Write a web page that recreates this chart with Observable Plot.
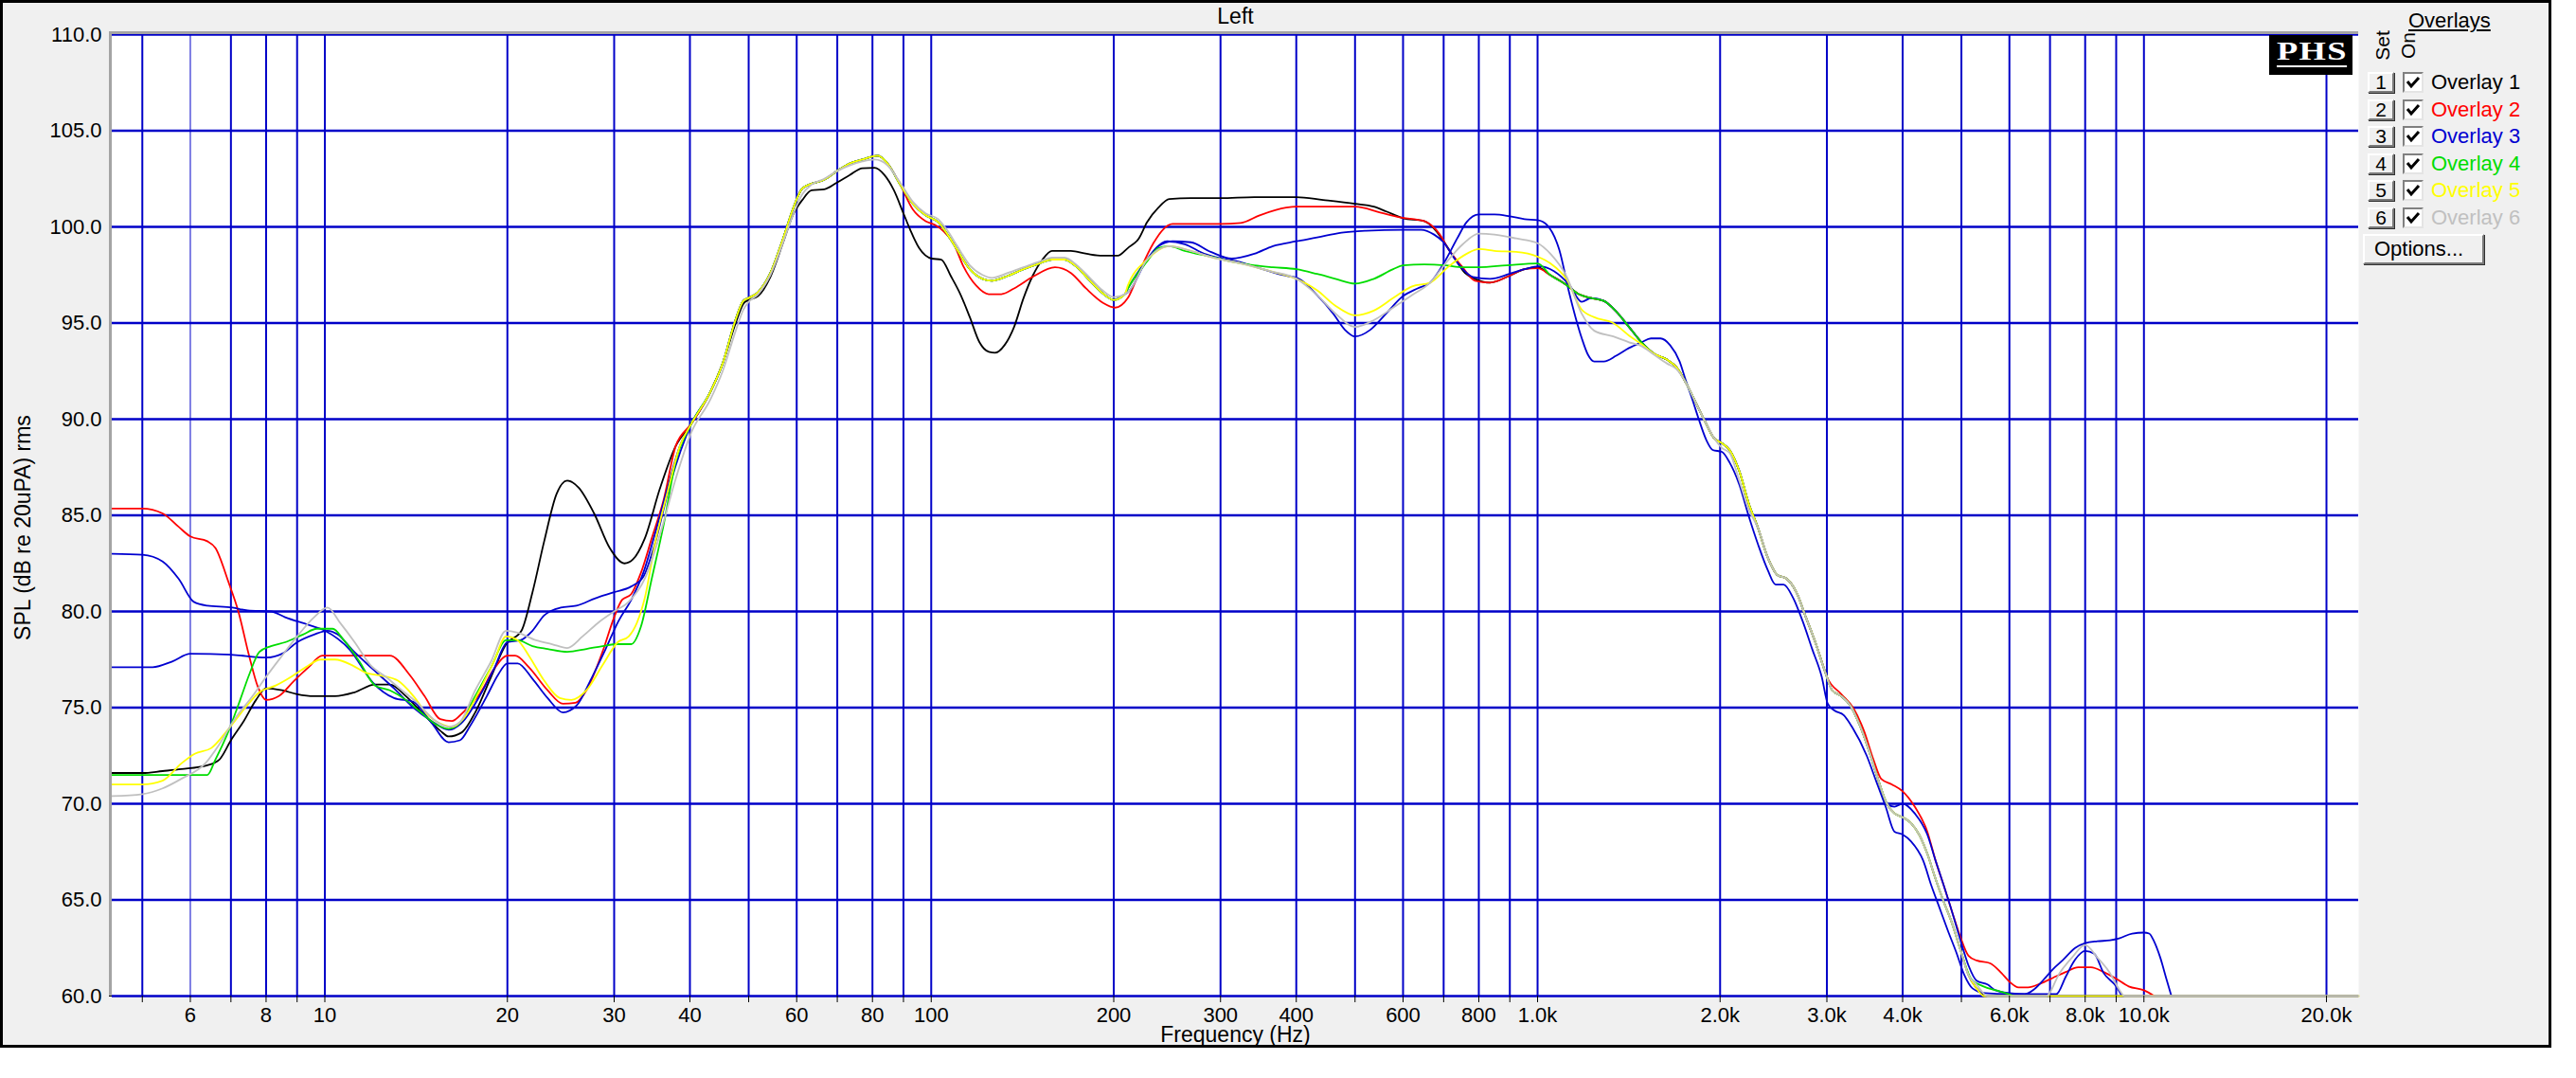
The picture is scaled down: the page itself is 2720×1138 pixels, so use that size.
<!DOCTYPE html>
<html>
<head>
<meta charset="utf-8">
<script src="https://cdn.jsdelivr.net/npm/d3@7"></script>
<script src="https://cdn.jsdelivr.net/npm/@observablehq/plot@0.6"></script>
<style>
  html, body { margin: 0; padding: 0; background: #fff; }
  body { width: 2720px; height: 1138px; position: relative; overflow: hidden;
         font-family: "Liberation Sans", Arial, sans-serif; color: #000; }
  #frame { position: absolute; left: 0; top: 0; width: 2694px; height: 1106px;
           box-sizing: border-box; border: 3px solid #000; background: #f0f0f0; }
  #chart { position: absolute; left: 0; top: 0; width: 2692px; height: 1104px; }
  .sunken { position: absolute; background: #a4a4a4; }
  .abs { position: absolute; white-space: nowrap; }
  .btn { position: absolute; box-sizing: border-box; background: #f0f0f0;
         border-top: 2px solid #fff; border-left: 2px solid #fff;
         border-right: 2px solid #7a7a7a; border-bottom: 2px solid #7a7a7a;
         box-shadow: 1px 1px 0 #303030; font-size: 21px; }
  .chk { position: absolute; box-sizing: border-box; background: #fff;
         border-top: 2px solid #808080; border-left: 2px solid #808080;
         border-right: 2px solid #e4e4e4; border-bottom: 2px solid #e4e4e4; }
  .rot { position: absolute; transform: translate(-50%, -50%) rotate(-90deg); font-size: 21px; }
  #logo { position: absolute; left: 2396px; top: 37px; width: 88px; height: 42px; background: #000; }
  #logo span { position: absolute; left: 8px; top: 2px; color: #fff; font-family: "Liberation Serif", serif;
               font-weight: bold; font-size: 28px; letter-spacing: 1px; transform: scaleX(1.3);
               transform-origin: left top; border-bottom: 2px solid #fff; line-height: 30px; }
</style>
</head>
<body>
<div id="frame"></div>
<div id="chart"></div>
<div class="sunken" style="left:115px; top:33px; width:2375px; height:3px;"></div>
<div class="sunken" style="left:115px; top:33px; width:3px; height:1018px;"></div>
<div id="logo"><span>PHS</span></div>
<div id="legend"></div>
<script>
// ---- labels / categories ----
const chartTitle = "Left";
const xLabel = "Frequency (Hz)";
const yLabel = "SPL (dB re 20uPA) rms";
const overlayNames = ["Overlay 1", "Overlay 2", "Overlay 3", "Overlay 4", "Overlay 5", "Overlay 6"];
const overlayColors = ["#000000", "#ff0000", "#0000d0", "#00dd00", "#ffff00", "#c0c0c0"];

const gridHz = [5, 6, 7, 8, 9, 10, 20, 30, 40, 50, 60, 70, 80, 90, 100, 200, 300, 400, 500, 600, 700, 800, 900,
  1000, 2000, 3000, 4000, 5000, 6000, 7000, 8000, 9000, 10000, 20000];
const gridLabels = ["", "6", "", "8", "", "10", "20", "30", "40", "", "60", "", "80", "", "100", "200", "300", "400", "",
  "600", "", "800", "", "1.0k", "2.0k", "3.0k", "4.0k", "", "6.0k", "", "8.0k", "", "10.0k", "20.0k"];
const dbTicks = [60, 65, 70, 75, 80, 85, 90, 95, 100, 105, 110];

// ---- curve values [Hz, dB] ----
const mainMid = [[40.2,89.75],[43.2,91.4],[45.3,92.9],[47.6,95.2],[49,96.15],[50,96.3],[51.8,96.6],[54.3,97.6],[57,99.4],
  [59.1,100.9],[61.3,102.0],[63.5,102.25],[66.6,102.45],[69.9,102.9],[73.4,103.3],[77,103.5],[79.8,103.65],[81.7,103.7],
  [84.7,103.3],[88.9,102.2],[93.3,101.2],[97.9,100.6],[102.7,100.25],[106.4,99.6],[110.4,98.8],[115.8,97.8],[121.5,97.3],
  [125.9,97.2],[133.7,97.45],[142,97.8],[150.8,98.1],[158.2,98.3],[166,98.3],[174,97.9],[182.7,97.2],[191.7,96.55],
  [200,96.2],[208.5,96.5]];
const mainHigh = [[1049,97.5],[1114,97.0],[1169,96.5],[1226,96.3],[1286,96.15],[1348,95.6],[1415,94.8],[1484,94.0],
  [1557,93.4],[1634,93.1],[1694,92.7],[1756,91.9],[1821,90.9],[1887,89.9],[1956,89.0],[2014,88.75],[2073,88.4],
  [2151,87.3],[2230,85.6],[2312,84.3],[2397,82.8],[2485,81.9],[2576,81.7],[2672,81.0],[2770,79.7],[2871,78.4],
  [2977,76.9],[3061,75.9],[3169,75.6],[3281,75.1],[3397,74.1],[3517,72.8],[3641,71.3],[3769,70.0],[3878,69.5],
  [4000,69.3],[4128,69.0],[4258,68.4],[4393,67.4],[4532,66.1],[4676,64.9],[4824,63.8],[4977,62.45],[5135,61.1]];

const blackLow = [[4.46,71.6],[5.0,71.6],[5.4,71.7],[5.8,71.8],[6.4,72.0],[6.7,72.3],[7.0,73.3],[7.35,74.3],[7.7,75.4],
  [8.0,76.0],[8.5,75.9],[9.0,75.7],[9.6,75.6],[10.4,75.6],[11.2,75.8],[12.1,76.2],[12.8,76.2],[13.6,75.6],[14.6,74.6],
  [15.5,73.8],[16,73.5],[16.8,73.7],[17.7,74.75],[18.8,76.6],[19.9,78.3],[21.1,79.0],[22.0,81.0],[23.0,83.65],
  [24.1,86.1],[25.1,86.8],[26.2,86.45],[27.8,85.1],[29.5,83.3],[31.2,82.5],[32.2,82.7],[33.7,83.8],[35.7,86.4],
  [37.9,88.6],[40.2,89.75],[43.2,91.4],[45.3,92.9],[47.6,95.0],[49,96.0],[50,96.2],[51.8,96.4],[54.3,97.4],[57,99.2],
  [59.1,100.6],[61.3,101.4],[63.5,101.9],[66.6,101.95],[69.9,102.3],[73.4,102.7],[77,103.05],[80.7,103.07],
  [83.7,102.7],[86.8,101.9],[90,100.7],[92.2,99.9],[95.5,98.9],[100.2,98.35],[103.9,98.3],[107.7,97.45],[111.7,96.5],
  [115.8,95.3],[120.1,94.0],[124.4,93.5],[127.4,93.45],[132.1,93.85],[137,94.8],[142,96.3],[147,97.45],[152.6,98.3],
  [158.2,98.75],[170,98.75],[180.5,98.6],[191.7,98.5],[203,98.5],[211,98.9],[220,99.4],[227,100.25],[237,101.0],
  [247,101.45],[268,101.5],[300,101.5],[341,101.55],[400,101.55],[443,101.4],[500,101.2],[537,101.05],[563,100.8],
  [600,100.45],[650,100.3],[682,99.75],[705,99.1],[732,98.3],[759,97.6],[788,97.3],[835,97.1],[898,97.45],[952,97.8],
  [1000,97.9]];
const blackTail = [[5297,60.4],[5450,60.0]];

const redLow = [[4.46,85.35],[5.0,85.35],[5.4,85.1],[5.74,84.4],[6.0,83.9],[6.4,83.65],[6.6,83.3],[6.94,81.5],[7.2,80.0],
  [7.5,77.7],[7.75,76.1],[8.0,75.4],[8.4,75.6],[8.9,76.4],[9.4,77.1],[9.9,77.7],[11,77.7],[12.8,77.7],[13.8,76.7],
  [14.6,75.6],[15.5,74.4],[16.2,74.3],[16.9,74.75],[18,75.7],[19,77.0],[20,77.7],[20.6,77.7],[21.7,77.1],[23.3,75.9],
  [24.7,75.2],[25.9,75.25],[27,75.9],[28.7,77.9],[30,79.7],[30.9,80.6],[32,80.9],[33.2,82.0],[34.6,83.8],[36.2,85.8],
  [37.9,88.6]];
const redMid = [[93.3,100.9],[97.9,100.3],[101.5,100.1],[105,99.75],[109,99.1],[113,97.95],[118.6,96.95],[124.4,96.5],
  [130.5,96.5],[137,96.8],[147,97.4],[160,97.9],[170,97.6],[180,96.8],[192,96.05],[201,95.8],[211,96.3],[220,97.6],
  [232,99.1],[241,99.85],[250,100.15],[268,100.15],[300,100.15],[324,100.2],[348,100.6],[385,101.0],[400,101.05],
  [443,101.05],[500,101.05],[550,100.75],[592,100.5],[650,100.3],[690,99.6],[714,98.8],[750,97.95],[788,97.2],
  [835,97.1],[898,97.45],[952,97.8],[1000,97.85]];
const redHigh = [[3000,76.6],[3169,75.7],[3321,74.95],[3453,73.8],[3580,72.3],[3686,71.3],[3843,71.0],[4000,70.65],
  [4188,69.85],[4393,68.55],[4532,67.05],[4676,65.75],[4824,64.4],[4977,63.1],[5135,62.1],[5297,61.85],[5580,61.7],
  [5820,61.2],[6000,60.75],[6213,60.45],[6440,60.45],[6750,60.65],[7080,60.95],[7430,61.25],[7790,61.5],[8180,61.5],
  [8580,61.25],[9000,60.9],[9440,60.5],[10000,60.3],[10400,60.0]];

const blueLow = [[4.46,83.0],[5.0,82.95],[5.4,82.6],[5.74,81.7],[6.08,80.5],[6.4,80.3],[7.04,80.2],[7.46,80.05],
  [8.15,80.0],[8.6,79.7],[9.4,79.3],[10,79.0],[11,78.0],[12,76.3],[13,75.5],[14,75.3],[15,74.2],[16,73.2],[16.7,73.3],
  [17.4,74.1],[18.5,75.6],[19.3,76.7],[20,77.3],[20.8,77.3],[22,76.5],[23.3,75.5],[24.7,74.75],[26,75.1],[27.5,76.5],
  [29,78.0],[30.5,79.5],[32,80.6],[33.5,82.0],[35,84.0],[36.8,86.5],[38.5,88.6]];
const blueHigh = [[211,96.6],[227,98.3],[245,99.25],[262,99.1],[282,98.6],[302,98.35],[321,98.2],[348,97.85],[379,97.5],
  [404,97.3],[433,96.45],[460,95.5],[481,94.65],[500,94.3],[530,94.65],[563,95.5],[600,96.4],[634,96.8],[665,97.1],
  [700,98.1],[737,99.4],[764,100.25],[800,100.65],[849,100.65],[900,100.55],[952,100.4],[1000,100.35],[1036,100.1],
  [1086,98.8],[1127,96.6],[1155,95.3],[1183,94.2],[1211,93.35],[1240,93.0],[1286,93.0],[1348,93.3],[1415,93.7],
  [1484,94.0],[1538,94.2],[1595,94.2],[1654,93.85],[1715,93.0],[1756,92.0],[1799,91.05],[1842,90.05],[1899,88.9],
  [1944,88.4],[2014,88.3],[2073,87.75],[2151,86.6],[2230,84.95],[2312,83.45],[2397,82.15],[2470,81.4],[2545,81.4],
  [2640,80.7],[2736,79.5],[2837,78.05],[2942,76.6],[3010,75.2],[3086,74.85],[3200,74.6],[3300,74.0],[3490,72.5],
  [3620,71.15],[3750,69.85],[3878,68.55],[4000,68.4],[4128,68.05],[4324,67.05],[4460,65.75],[4600,64.6],[4750,63.4],
  [4900,62.3],[5055,61.1],[5215,60.4],[5470,60.15],[6000,60.1],[6700,60.1],[7170,60.1],[7430,61.0],[7700,61.9],
  [8000,62.35],[8280,62.2],[8580,61.2],[9000,60.5],[9200,60.0]];

const blue2Low = [[4.46,77.1],[5.2,77.1],[5.6,77.4],[6.0,77.8],[7.0,77.75],[8.0,77.6],[8.5,77.8],[9.0,78.4],[9.6,78.8],
  [10.1,79.0],[10.5,78.8],[11.1,78.0],[12,77.0],[13,76.0],[14,75.0],[15,74.3],[16,73.85],[16.8,74.2],[18,75.6],[19,77.0],
  [20,78.4],[21,78.5],[22,79.0],[23,79.8],[24.5,80.2],[26,80.3],[28,80.7],[30,81.0],[32,81.3],[33.5,81.8],[35,83.5],
  [37,86.5]];
const blue2Mid = [[211,96.8],[227,98.3],[237,99.0],[250,99.25],[268,99.2],[289,98.7],[313,98.35],[341,98.6],[366,99.0],
  [400,99.25],[433,99.45],[475,99.7],[521,99.8],[600,99.85],[643,99.85],[675,99.6],[700,99.2],[726,98.45],[753,97.8],
  [782,97.4],[835,97.3],[898,97.55],[952,97.8],[1006,97.95],[1064,97.7],[1130,96.95],[1182,96.1]];
const blue2Tail = [[3878,69.85],[4000,70.0],[4188,69.5],[4393,68.4],[4532,67.05],[4676,65.75],[4824,64.4],[4977,62.95],
  [5135,61.6],[5297,60.8],[5521,60.6],[5690,60.3],[6000,60.15],[6360,60.1],[6590,60.35],[6830,60.85],[7080,61.4],
  [7340,61.85],[7700,62.5],[8000,62.75],[8380,62.85],[8790,62.9],[9100,63.0],[9560,63.25],[10000,63.3],[10200,63.25],
  [10390,62.85],[10640,62.0],[10900,60.85],[11100,60.0]];

const greenLow = [[4.46,71.5],[6.4,71.5],[6.6,72.3],[6.9,73.6],[7.25,75.4],[7.5,76.7],[7.8,77.9],[8.15,78.2],[8.6,78.4],
  [9.2,78.8],[9.7,79.1],[10.3,79.1],[10.75,78.5],[11.4,77.4],[12.1,76.15],[12.8,75.9],[13.6,75.4],[14.4,74.75],
  [15.3,74.1],[16,73.9],[16.7,74.2],[17.7,75.6],[18.8,77.1],[19.9,78.5],[20.8,78.5],[22,78.2],[23.3,78.05],[25.1,77.9],
  [27,78.05],[28.7,78.2],[30.4,78.3],[32,78.3],[33.2,79.2],[34.6,81.7],[36.2,84.5],[37.9,87.8]];
const greenMid = [[211,96.8],[227,98.2],[237,98.9],[247,99.0],[262,98.75],[289,98.45],[313,98.2],[341,98.0],[366,97.9],
  [400,97.8],[433,97.55],[464,97.3],[500,97.05],[537,97.3],[578,97.8],[600,98.0],[650,98.05],[705,98.0],[753,97.9],
  [800,97.9],[888,98.0],[1000,98.1]];
const greenTail = [[5188,60.9],[5440,60.5],[5700,60.3],[5990,60.1],[6100,60.0]];

const yellowLow = [[4.46,71.0],[5.0,71.0],[5.4,71.2],[5.8,72.1],[6.1,72.6],[6.5,72.9],[6.9,73.8],[7.35,74.9],[7.8,75.8],
  [8.3,76.15],[8.8,76.6],[9.3,77.1],[9.85,77.5],[10.4,77.5],[11.1,77.2],[11.7,76.8],[12.45,76.65],[13.2,76.4],[14,75.6],
  [14.8,74.6],[15.7,74.1],[16.2,74.0],[16.9,74.4],[18,75.9],[19,77.4],[19.9,78.7],[20.8,78.5],[21.7,77.7],[23,76.4],
  [24.4,75.5],[25.5,75.4],[27,75.9],[28.7,77.2],[30.4,78.4],[31.7,78.7],[32.7,79.4],[33.7,80.7],[35.1,83.65],
  [36.8,86.3],[38.5,88.6]];
const yellowMid = [[211,96.95],[227,98.3],[247,99.0],[268,98.75],[296,98.35],[324,98.1],[362,97.7],[400,97.3],
  [433,96.7],[464,95.9],[500,95.4],[537,95.65],[578,96.3],[621,96.9],[665,97.1],[714,97.95],[764,98.6],[800,98.85],
  [849,98.75],[922,98.7],[1000,98.45],[1050,98.1],[1115,97.3],[1182,95.7],[1240,95.3],[1333,95.0],[1415,94.35],
  [1484,93.9],[1557,93.4]];
const yellowTail = [[5297,60.4],[5450,60.0],[22600,60.0]];

const grayLow = [[4.46,70.4],[5.0,70.5],[5.4,70.8],[5.8,71.3],[6.35,72.1],[6.7,73.1],[7.1,74.4],[7.6,75.6],[8.0,76.6],
  [8.5,77.7],[9.0,78.7],[9.6,79.7],[10.1,80.2],[10.6,79.4],[11.2,78.4],[11.9,77.2],[12.6,76.6],[13.4,75.9],[14.2,75.25],
  [15.1,74.4],[16,74.0],[16.7,74.25],[17.7,75.9],[18.8,77.4],[19.9,79.0],[20.8,78.9],[22.3,78.5],[23.7,78.3],[25.1,78.1],
  [26.6,78.7],[28.2,79.4],[30,80.0],[31.7,80.5],[33.7,81.7],[35.7,84.0],[37.9,86.9],[40.2,89.3],[43.2,91.0],[45.3,92.5],
  [47.6,94.6],[49,95.7],[50,96.1],[51.8,96.5],[54.3,97.5],[57,99.2],[59.1,100.6],[61.3,101.7],[63.5,102.2],[66.6,102.5],
  [69.9,102.9],[73.4,103.2],[77,103.4],[80.7,103.5],[84.7,103.2],[88.9,102.3],[93.3,101.3],[97.9,100.7],[102.7,100.4],
  [106.4,99.8],[110.4,99.0],[115.8,98.0],[121.5,97.5],[125.9,97.35],[133.7,97.6],[142,97.9],[150.8,98.2],[158.2,98.4],
  [166,98.4],[174,98.0],[182.7,97.35],[191.7,96.7],[200,96.35]];
const grayMid = [[211,96.6],[227,98.3],[247,99.0],[268,98.75],[296,98.35],[324,98.1],[362,97.7],[400,97.3],[433,96.45],
  [464,95.5],[500,94.8],[537,95.15],[578,95.8],[621,96.45],[665,97.1],[705,98.1],[753,99.1],[800,99.65],[849,99.6],
  [922,99.4],[1000,99.15],[1050,98.6],[1115,97.45],[1182,95.5],[1240,94.6],[1333,94.3],[1415,94.0],[1484,93.8],
  [1557,93.35],[1634,92.9],[1694,92.6],[1756,91.9]];
const grayMid2 = [[2014,88.5],[2073,88.25],[2151,86.8],[2230,85.3]];
const grayTail = [[5297,60.6],[5521,60.0],[6900,60.0],[7260,61.2],[7610,62.0],[8000,62.65],[8380,62.0],[8790,61.2],
  [9100,60.35],[9300,60.0],[22600,60.0]];

// pick the stretch of a shared trace between two frequencies
const between = (pts, lo, hi) => pts.filter(([f]) => f >= lo && f <= hi);

const series = [
  {color: overlayColors[0], pts: [...blackLow, ...between(mainHigh, 1049, 5135), ...blackTail]},
  {color: overlayColors[1], pts: [...redLow, ...between(mainMid, 40, 89), ...redMid, ...between(mainHigh, 1049, 2977), ...redHigh]},
  {color: overlayColors[2], pts: [...blueLow, ...between(mainMid, 40, 209), ...blueHigh]},
  {color: overlayColors[2], pts: [...blue2Low, ...between(mainMid, 40, 209), ...blue2Mid, ...between(mainHigh, 1226, 3769), ...blue2Tail]},
  {color: overlayColors[3], pts: [...greenLow, ...between(mainMid, 40, 209), ...greenMid, ...between(mainHigh, 1049, 4977), ...greenTail]},
  {color: overlayColors[4], pts: [...yellowLow, ...between(mainMid, 40, 209), ...yellowMid, ...between(mainHigh, 1634, 5135), ...yellowTail]},
  {color: overlayColors[5], pts: [...grayLow, ...grayMid, ...between(mainHigh, 1821, 1956), ...grayMid2, ...between(mainHigh, 2312, 5135), ...grayTail]}
];

const labelled = gridHz.filter((f, i) => gridLabels[i] !== "");
const labelFor = new Map(gridHz.map((f, i) => [f, gridLabels[i]]));
const gridBlue = "#0000c8";

const chart = Plot.plot({
  width: 2692,
  height: 1104,
  marginLeft: 118,
  marginRight: 202,
  marginTop: 36,
  marginBottom: 53,
  style: {background: "transparent", fontFamily: "Liberation Sans, Arial, sans-serif", fontSize: "22px", color: "#000", overflow: "visible"},
  x: {type: "log", domain: [4.46, 22600]},
  y: {domain: [60, 110]},
  marks: [
    Plot.frame({fill: "white", stroke: "none"}),
    Plot.ruleX(gridHz, {stroke: gridBlue, strokeWidth: (d) => d === 6 ? 1 : 2}),
    Plot.ruleY(dbTicks, {stroke: gridBlue, strokeWidth: 2.5}),
    ...series.map((s) => Plot.line(s.pts, {
      x: (d) => d[0],
      y: (d) => d[1],
      stroke: s.color,
      strokeWidth: 1.8,
      curve: "monotone-x"
    })),
    // tick marks only; the log axis would hide most labels, so they are drawn as text below
    Plot.axisX({ticks: gridHz, tickFormat: () => "", tickSize: 7, label: null}),
    Plot.text(labelled, {x: (d) => d, text: (d) => labelFor.get(d), frameAnchor: "bottom", lineAnchor: "middle", dy: 20, fontSize: 22}),
    Plot.axisY({ticks: dbTicks, tickFormat: (d) => d.toFixed(1), tickSize: 3, tickPadding: 8, fontSize: 22, label: null}),
    Plot.text([chartTitle], {frameAnchor: "top", lineAnchor: "middle", dy: -19, fontSize: 23}),
    Plot.text([xLabel], {frameAnchor: "bottom", lineAnchor: "middle", dy: 41, fontSize: 23}),
    Plot.text([yLabel], {frameAnchor: "left", lineAnchor: "middle", dx: -94, dy: 13, rotate: -90, textAnchor: "middle", fontSize: 23})
  ]
});
document.getElementById("chart").append(chart);

// ---- overlay panel ----
const legend = document.getElementById("legend");
function add(html) { legend.insertAdjacentHTML("beforeend", html); }
add(`<div class="abs" style="left:2543px; top:9px; font-size:22px; text-decoration:underline;">Overlays</div>`);
add(`<div class="rot" style="left:2516px; top:48px;">Set</div>`);
add(`<div class="rot" style="left:2543px; top:48px;">On</div>`);
overlayNames.forEach((name, i) => {
  const top = 76 + i * 28.6;
  add(`<div class="btn" style="left:2500px; top:${top}px; width:28px; height:22px; line-height:18px; text-align:center;">${i + 1}</div>`);
  add(`<div class="chk" style="left:2537px; top:${top}px; width:22px; height:22px;">
    <svg width="18" height="18" style="position:absolute;left:0;top:0"><polyline points="3,8 7,13 15,4" fill="none" stroke="#000" stroke-width="3"/></svg></div>`);
  add(`<div class="abs" style="left:2567px; top:${top - 1}px; font-size:22px; line-height:24px; color:${overlayColors[i]};">${name}</div>`);
});
add(`<div class="btn" style="left:2495px; top:247px; width:128px; height:32px; line-height:27px; padding-left:10px; font-size:22px;">Options...</div>`);
</script>
</body>
</html>
